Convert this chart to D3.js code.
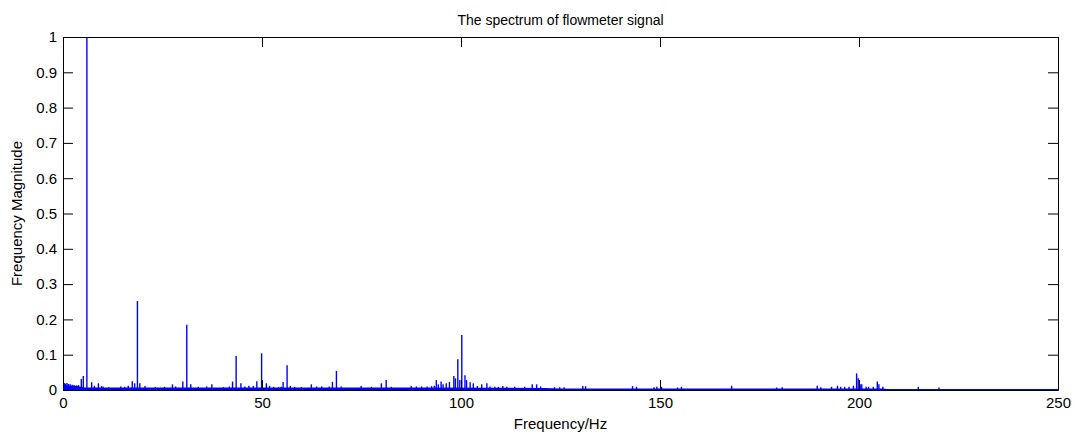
<!DOCTYPE html>
<html>
<head>
<meta charset="utf-8">
<script src="https://cdn.jsdelivr.net/npm/d3@7/dist/d3.min.js"></script>
<style>
  body { margin: 0; background: #fff; }
  svg { display: block; font-family: Arial, "Liberation Sans", sans-serif; }
</style>
</head>
<body>
<svg id="chart" width="1075" height="435"></svg>
<script>
// ---- data ----
const titleText = "The spectrum of flowmeter signal";
const xLabel = "Frequency/Hz";
const yLabel = "Frequency Magnitude";
const xTicks = [0, 50, 100, 150, 200, 250];
const yTicks = [0, 0.1, 0.2, 0.3, 0.4, 0.5, 0.6, 0.7, 0.8, 0.9, 1];

const peakFreqs = [
  0, 0.3, 0.6, 1.0, 1.4, 1.8, 2.3, 2.8, 3.4, 3.9, 4.6, 5.1, 6.0, 7.2, 7.9, 8.9, 9.7, 10.1, 11.5,
  14.5, 15.5, 16.4, 17.4, 18.0, 18.7, 19.3, 20.6, 23.2, 25.5, 27.5, 28.3, 30.1, 31.1, 32.1, 34.0,
  36.1, 37.4, 40.3, 41.8, 42.6, 43.5, 44.7, 45.7, 46.7, 47.8, 48.7, 49.9, 51.1, 51.9, 52.9, 54.2,
  54.8, 55.3, 56.3, 57.1, 58.2, 59.9, 62.4, 63.7, 65.0, 66.9, 67.7, 68.7, 69.9, 74.9, 77.5, 80.0,
  81.2, 82.5, 87.5, 88.8, 90.1, 91.5, 92.6, 93.3, 93.8, 94.3, 95.0, 95.5, 96.3, 97.1, 98.2, 98.6,
  99.2, 99.7, 100.2, 101.0, 101.4, 102.3, 103.1, 104.1, 105.2, 106.5, 107.3, 108.5, 109.4, 110.5,
  111.5, 113.5, 116.0, 117.9, 119.0, 120.0, 123.5, 124.8, 125.9, 130.6, 131.3, 143.1, 144.1, 148.5,
  149.2, 150.4, 154.4, 155.4, 168.0, 179.3, 180.7, 189.5, 190.4, 193.1, 194.6, 195.4, 196.4, 197.5,
  198.6, 199.4, 199.8, 200.3, 200.7, 201.8, 202.4, 203.6, 204.6, 205.0, 206.0, 214.9, 220.1
];
const peakMags = [
  0.18, 0.02, 0.018, 0.02, 0.017, 0.016, 0.015, 0.014, 0.013, 0.014, 0.031, 0.04, 1.0, 0.022, 0.012, 0.019, 0.011, 0.009, 0.008,
  0.01, 0.009, 0.012, 0.025, 0.019, 0.252, 0.019, 0.011, 0.008, 0.009, 0.016, 0.01, 0.024, 0.185, 0.016, 0.009,
  0.01, 0.016, 0.008, 0.01, 0.024, 0.096, 0.019, 0.01, 0.012, 0.011, 0.025, 0.104, 0.019, 0.012, 0.009, 0.008,
  0.009, 0.023, 0.07, 0.011, 0.009, 0.008, 0.016, 0.01, 0.01, 0.01, 0.023, 0.054, 0.01, 0.011, 0.009, 0.019,
  0.028, 0.009, 0.011, 0.01, 0.01, 0.01, 0.011, 0.012, 0.028, 0.016, 0.024, 0.016, 0.019, 0.023, 0.04, 0.033,
  0.087, 0.028, 0.156, 0.042, 0.028, 0.022, 0.019, 0.011, 0.016, 0.019, 0.01, 0.009, 0.009, 0.011,
  0.009, 0.009, 0.009, 0.016, 0.016, 0.01, 0.008, 0.008, 0.008, 0.011, 0.011, 0.011, 0.009, 0.008,
  0.009, 0.009, 0.007, 0.009, 0.012, 0.007, 0.008, 0.012, 0.008, 0.009, 0.012, 0.009, 0.009, 0.009,
  0.012, 0.047, 0.033, 0.016, 0.016, 0.009, 0.009, 0.009, 0.024, 0.016, 0.009, 0.009, 0.007
];

// noise floor (dense low-level band along the bottom)
const noiseFreqs  = [0, 0.5, 1.5, 2.5, 3.5, 4.3, 5.5, 30, 60, 90, 121, 125, 206, 207, 250];
const noiseLevels = [0.016, 0.014, 0.012, 0.012, 0.011, 0.009, 0.007, 0.007, 0.007, 0.007, 0.006, 0.004, 0.004, 0.003, 0.003];

// ---- layout ----
const svg = d3.select("#chart");
const margin = { left: 63, top: 37, right: 17, bottom: 45 };
const W = 1075, H = 435;
const iw = W - margin.left - margin.right;   // 995
const ih = H - margin.top - margin.bottom;   // 353

const x = d3.scaleLinear().domain([0, 250]).range([0, iw]);
const y = d3.scaleLinear().domain([0, 1]).range([ih, 0]);

const g = svg.append("g").attr("transform", `translate(${margin.left},${margin.top})`);

svg.append("defs").append("clipPath").attr("id", "clip")
  .append("rect").attr("x", 0).attr("y", 0).attr("width", iw).attr("height", ih);

const plot = g.append("g").attr("clip-path", "url(#clip)");

// noise floor band
const noise = noiseFreqs.map((f, i) => ({ f, v: noiseLevels[i] }));
plot.append("path")
  .datum(noise)
  .attr("fill", "#0000ff")
  .attr("d", d3.area().x(d => x(d.f)).y0(y(0)).y1(d => y(d.v)));

// spectral peaks
const peaks = peakFreqs.map((f, i) => ({ f, v: peakMags[i] }));
plot.selectAll("line.peak")
  .data(peaks)
  .join("line")
  .attr("class", "peak")
  .attr("x1", d => x(d.f)).attr("x2", d => x(d.f))
  .attr("y1", y(0)).attr("y2", d => y(d.v))
  .attr("stroke", "#0000ff")
  .attr("stroke-width", 1.4);

// ---- axes (box with inward ticks) ----
function styleAxis(sel) {
  sel.selectAll("path.domain").attr("stroke", "#000").attr("stroke-width", 1);
  sel.selectAll(".tick line").attr("stroke", "#000").attr("stroke-width", 1);
  sel.selectAll(".tick text").attr("fill", "#000").style("font-size", "15px")
    .style("font-family", "Arial, 'Liberation Sans', sans-serif");
}

g.append("g").attr("transform", `translate(0,${ih})`)
  .call(d3.axisBottom(x).tickValues(xTicks).tickFormat(d3.format("d")).tickSize(-10).tickSizeOuter(0).tickPadding(7))
  .call(styleAxis);

g.append("g")
  .call(d3.axisTop(x).tickValues(xTicks).tickFormat("").tickSize(-10).tickSizeOuter(0))
  .call(styleAxis);

g.append("g")
  .call(d3.axisLeft(y).tickValues(yTicks).tickFormat(d => d === 0 || d === 1 ? String(d) : d3.format(".1f")(d)).tickSize(-10).tickSizeOuter(0).tickPadding(6))
  .call(styleAxis);

g.append("g").attr("transform", `translate(${iw},0)`)
  .call(d3.axisRight(y).tickValues(yTicks).tickFormat("").tickSize(-10).tickSizeOuter(0))
  .call(styleAxis);

// ---- texts ----
svg.append("text")
  .attr("x", margin.left + iw / 2).attr("y", 25)
  .attr("text-anchor", "middle")
  .style("font-size", "14px")
  .text(titleText);

svg.append("text")
  .attr("x", margin.left + iw / 2).attr("y", 429)
  .attr("text-anchor", "middle")
  .style("font-size", "15px")
  .text(xLabel);

svg.append("text")
  .attr("transform", `translate(22,${margin.top + ih / 2}) rotate(-90)`)
  .attr("text-anchor", "middle")
  .style("font-size", "15px")
  .text(yLabel);
</script>
</body>
</html>
